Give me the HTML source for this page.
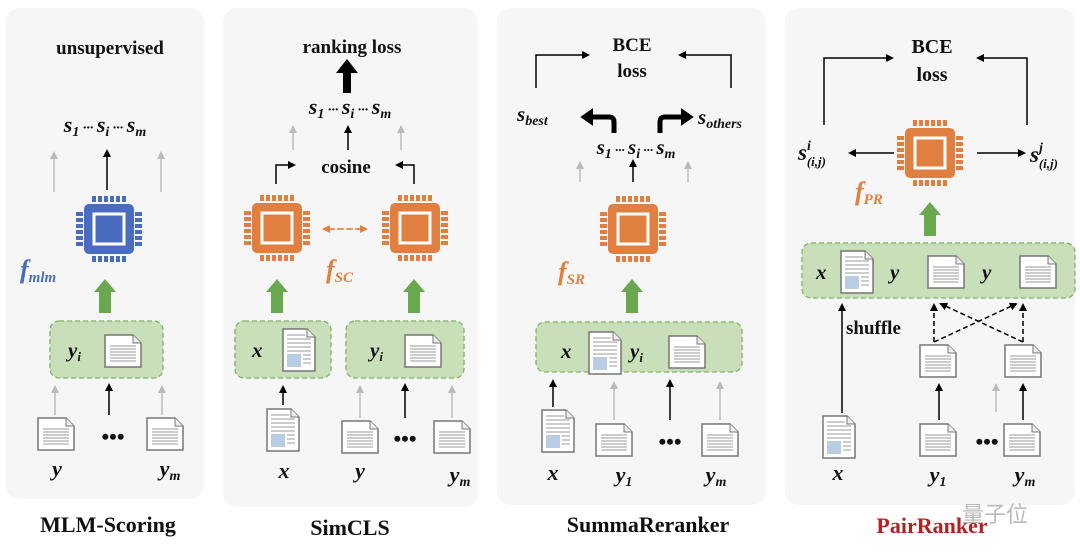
<!DOCTYPE html>
<html><head><meta charset="utf-8"><style>
html,body{margin:0;padding:0;background:#fff;}
svg{display:block;}
text{font-family:"Liberation Serif",serif;font-weight:bold;fill:#111;}
.it{font-style:italic;}
</style></head><body>
<svg width="1080" height="559" viewBox="0 0 1080 559" xmlns="http://www.w3.org/2000/svg">
<defs>
<g id="pins">
  <g>
  <rect x="-17" y="-33" width="4" height="6"/><rect x="-11" y="-33" width="4" height="6"/><rect x="-5" y="-33" width="4" height="6"/><rect x="1" y="-33" width="4" height="6"/><rect x="7" y="-33" width="4" height="6"/><rect x="13" y="-33" width="4" height="6"/>
  <rect x="-17" y="27" width="4" height="6"/><rect x="-11" y="27" width="4" height="6"/><rect x="-5" y="27" width="4" height="6"/><rect x="1" y="27" width="4" height="6"/><rect x="7" y="27" width="4" height="6"/><rect x="13" y="27" width="4" height="6"/>
  <rect y="-17" x="-33" height="4" width="7"/><rect y="-11" x="-33" height="4" width="7"/><rect y="-5" x="-33" height="4" width="7"/><rect y="1" x="-33" height="4" width="7"/><rect y="7" x="-33" height="4" width="7"/><rect y="13" x="-33" height="4" width="7"/>
  <rect y="-17" x="26" height="4" width="7"/><rect y="-11" x="26" height="4" width="7"/><rect y="-5" x="26" height="4" width="7"/><rect y="1" x="26" height="4" width="7"/><rect y="7" x="26" height="4" width="7"/><rect y="13" x="26" height="4" width="7"/>
  </g>
</g>
<g id="chipO" fill="#e07f3f">
  <use href="#pins"/>
  <rect x="-25" y="-25" width="50" height="50" rx="5"/>
  <rect x="-15" y="-15" width="30" height="30" fill="none" stroke="#fff" stroke-width="3"/>
</g>
<g id="chipB" fill="#4a6cc0">
  <use href="#pins"/>
  <rect x="-25" y="-25" width="50" height="50" rx="5"/>
  <rect x="-15" y="-15" width="30" height="30" fill="none" stroke="#fff" stroke-width="3"/>
</g>
<g id="doc">
  <path d="M0,0 H28 L36,8 V32 H0 Z" fill="#fff" stroke="#777" stroke-width="1.5"/>
  <path d="M28,0 V8 H36" fill="#eee" stroke="#777" stroke-width="1"/>
  <g stroke="#999" stroke-width="1"><line x1="5" y1="11" x2="31" y2="11"/><line x1="5" y1="14" x2="31" y2="14"/><line x1="5" y1="17" x2="31" y2="17"/><line x1="5" y1="20" x2="31" y2="20"/><line x1="5" y1="23" x2="31" y2="23"/><line x1="5" y1="26" x2="31" y2="26"/></g>
</g>
<g id="xdoc">
  <path d="M0,0 H24 L32,8 V42 H0 Z" fill="#fff" stroke="#777" stroke-width="1.5"/>
  <path d="M24,0 V8 H32" fill="#eee" stroke="#777" stroke-width="1"/>
  <g stroke="#999" stroke-width="1"><line x1="4" y1="6" x2="22" y2="6"/><line x1="4" y1="10" x2="28" y2="10"/><line x1="4" y1="14" x2="28" y2="14"/><line x1="4" y1="18" x2="28" y2="18"/><line x1="4" y1="22" x2="28" y2="22"/><line x1="20" y1="26" x2="28" y2="26"/><line x1="20" y1="30" x2="28" y2="30"/><line x1="20" y1="34" x2="28" y2="34"/></g>
  <rect x="4" y="25" width="14" height="13" fill="#b8cce4"/>
</g>
<marker id="ab" markerWidth="8" markerHeight="8" refX="6" refY="4" orient="auto" markerUnits="userSpaceOnUse"><path d="M0,0 L8,4 L0,8 Z" fill="#000"/></marker>
<marker id="ag" markerWidth="8" markerHeight="8" refX="6" refY="4" orient="auto" markerUnits="userSpaceOnUse"><path d="M0,0 L8,4 L0,8 Z" fill="#bbb"/></marker>
<marker id="ao" markerWidth="8" markerHeight="8" refX="6" refY="4" orient="auto" markerUnits="userSpaceOnUse"><path d="M0,0 L8,4 L0,8 Z" fill="#e07f3f"/></marker>
<marker id="ak" markerWidth="14" markerHeight="14" refX="8" refY="7" orient="auto" markerUnits="userSpaceOnUse"><path d="M0,0 L12,7 L0,14 Z" fill="#000"/></marker>
</defs>

<!-- panels -->
<rect x="6" y="8" width="198" height="491" rx="14" fill="#f6f6f6"/>
<rect x="223" y="8" width="255" height="499" rx="14" fill="#f6f6f6"/>
<rect x="497" y="8" width="269" height="497" rx="14" fill="#f6f6f6"/>
<rect x="785" y="8" width="290" height="497" rx="14" fill="#f6f6f6"/>

<!-- green arrows template function via paths -->
<g fill="#6aa84f">
  <path d="M99,313 V292 H94 L105,279 L116,292 H111 V313 Z"/>
  <path d="M271,313 V292 H266 L277,279 L288,292 H283 V313 Z"/>
  <path d="M408,313 V292 H403 L414,279 L425,292 H420 V313 Z"/>
  <path d="M626,313 V292 H621 L632,279 L643,292 H638 V313 Z"/>
  <path d="M924,236 V215 H919 L930,202 L941,215 H936 V236 Z"/>
</g>

<!-- green boxes -->
<g fill="#c9dfb9" stroke="#7fb46a" stroke-width="1.3" stroke-dasharray="5,3">
  <rect x="50" y="321" width="113" height="57" rx="9"/>
  <rect x="235" y="321" width="96" height="57" rx="9"/>
  <rect x="346" y="321" width="118" height="57" rx="9"/>
  <rect x="536" y="322" width="206" height="50" rx="9"/>
  <rect x="802" y="243" width="273" height="55" rx="9"/>
</g>

<!-- ===== Panel 1 ===== -->
<text x="110" y="54" font-size="19" text-anchor="middle">unsupervised</text>
<text x="105" y="132" font-size="22" text-anchor="middle" class="it">s<tspan font-size="14" dy="4">1</tspan><tspan dy="-4" font-size="14"> ··· </tspan>s<tspan font-size="14" dy="4">i</tspan><tspan dy="-4" font-size="14"> ··· </tspan>s<tspan font-size="14" dy="4">m</tspan></text>
<line x1="54" y1="192" x2="54" y2="153" stroke="#bbb" stroke-width="1.5" marker-end="url(#ag)"/>
<line x1="107" y1="190" x2="107" y2="151" stroke="#000" stroke-width="1.5" marker-end="url(#ab)"/>
<line x1="161" y1="192" x2="161" y2="153" stroke="#bbb" stroke-width="1.5" marker-end="url(#ag)"/>
<use href="#chipB" x="109" y="229"/>
<text x="20" y="278" font-size="26" fill="#4a6cc0" class="it" style="fill:#4a6cc0">f<tspan font-size="15" dy="4">mlm</tspan></text>
<text x="68" y="357" font-size="21" class="it">y<tspan font-size="13" dy="4">i</tspan></text>
<use href="#doc" x="105" y="335"/>
<line x1="55" y1="415" x2="55" y2="387" stroke="#bbb" stroke-width="1.5" marker-end="url(#ag)"/>
<line x1="109" y1="415" x2="109" y2="385" stroke="#000" stroke-width="1.5" marker-end="url(#ab)"/>
<line x1="162" y1="415" x2="162" y2="387" stroke="#bbb" stroke-width="1.5" marker-end="url(#ag)"/>
<use href="#doc" x="38" y="418"/>
<use href="#doc" x="147" y="418"/>
<text x="113" y="444" font-size="22" text-anchor="middle">•••</text>
<text x="57" y="476" font-size="22" class="it" text-anchor="middle">y</text>
<text x="170" y="476" font-size="22" class="it" text-anchor="middle">y<tspan font-size="14" dy="4">m</tspan></text>
<text x="108" y="532" font-size="22" text-anchor="middle">MLM-Scoring</text>

<!-- ===== Panel 2 ===== -->
<text x="352" y="53" font-size="19" text-anchor="middle">ranking loss</text>
<path d="M343,93 V73 H336 L347,59 L358,73 H351 V93 Z" fill="#000"/>
<text x="350" y="114" font-size="22" text-anchor="middle" class="it">s<tspan font-size="14" dy="4">1</tspan><tspan dy="-4" font-size="14"> ··· </tspan>s<tspan font-size="14" dy="4">i</tspan><tspan dy="-4" font-size="14"> ··· </tspan>s<tspan font-size="14" dy="4">m</tspan></text>
<line x1="293" y1="150" x2="293" y2="127" stroke="#bbb" stroke-width="1.5" marker-end="url(#ag)"/>
<line x1="348" y1="150" x2="348" y2="127" stroke="#000" stroke-width="1.5" marker-end="url(#ab)"/>
<line x1="401" y1="150" x2="401" y2="127" stroke="#bbb" stroke-width="1.5" marker-end="url(#ag)"/>
<text x="346" y="173" font-size="19" text-anchor="middle">cosine</text>
<path d="M276,184 V165 H294" fill="none" stroke="#000" stroke-width="1.5" marker-end="url(#ab)"/>
<path d="M414,184 V165 H397" fill="none" stroke="#000" stroke-width="1.5" marker-end="url(#ab)"/>
<use href="#chipO" x="277" y="228"/>
<use href="#chipO" x="415" y="228"/>
<line x1="330" y1="229" x2="366" y2="229" stroke="#e07f3f" stroke-width="1.5" stroke-dasharray="5,4" marker-end="url(#ao)"/>
<line x1="360" y1="229" x2="324" y2="229" stroke="#e07f3f" stroke-width="1.5" stroke-dasharray="5,4" marker-end="url(#ao)"/>
<text x="326" y="278" font-size="26" class="it" style="fill:#e07f3f">f<tspan font-size="15" dy="4">SC</tspan></text>
<text x="252" y="357" font-size="21" class="it">x</text>
<use href="#xdoc" x="283" y="329"/>
<text x="370" y="357" font-size="21" class="it">y<tspan font-size="13" dy="4">i</tspan></text>
<use href="#doc" x="405" y="335"/>
<line x1="283" y1="405" x2="283" y2="387" stroke="#000" stroke-width="1.5" marker-end="url(#ab)"/>
<line x1="360" y1="418" x2="360" y2="387" stroke="#bbb" stroke-width="1.5" marker-end="url(#ag)"/>
<line x1="405" y1="418" x2="405" y2="385" stroke="#000" stroke-width="1.5" marker-end="url(#ab)"/>
<line x1="452" y1="418" x2="452" y2="387" stroke="#bbb" stroke-width="1.5" marker-end="url(#ag)"/>
<use href="#xdoc" x="267" y="409"/>
<use href="#doc" x="342" y="421"/>
<use href="#doc" x="434" y="421"/>
<text x="405" y="446" font-size="22" text-anchor="middle">•••</text>
<text x="284" y="478" font-size="22" class="it" text-anchor="middle">x</text>
<text x="360" y="478" font-size="22" class="it" text-anchor="middle">y</text>
<text x="460" y="482" font-size="22" class="it" text-anchor="middle">y<tspan font-size="14" dy="4">m</tspan></text>
<text x="350" y="535" font-size="22" text-anchor="middle">SimCLS</text>

<!-- ===== Panel 3 ===== -->
<text x="632" y="51" font-size="19" text-anchor="middle">BCE</text>
<text x="632" y="77" font-size="19" text-anchor="middle">loss</text>
<path d="M536,88 V55 H588" fill="none" stroke="#000" stroke-width="1.5" marker-end="url(#ab)"/>
<path d="M731,88 V55 H680" fill="none" stroke="#000" stroke-width="1.5" marker-end="url(#ab)"/>
<text x="517" y="121" font-size="21" class="it">s<tspan font-size="14" dy="4">best</tspan></text>
<path d="M614,133 V122 Q614,117 609,117 H590" fill="none" stroke="#000" stroke-width="5"/>
<path d="M592,110 L582,117 L592,124 Z" fill="#000" stroke="#000" stroke-width="2"/>
<path d="M660,133 V122 Q660,117 665,117 H684" fill="none" stroke="#000" stroke-width="5"/>
<path d="M682,110 L692,117 L682,124 Z" fill="#000" stroke="#000" stroke-width="2"/>
<text x="698" y="124" font-size="21" class="it">s<tspan font-size="14" dy="4">others</tspan></text>
<text x="636" y="154" font-size="21" text-anchor="middle" class="it">s<tspan font-size="14" dy="4">1</tspan><tspan dy="-4" font-size="13"> ··· </tspan>s<tspan font-size="14" dy="4">i</tspan><tspan dy="-4" font-size="13"> ··· </tspan>s<tspan font-size="14" dy="4">m</tspan></text>
<line x1="580" y1="182" x2="580" y2="163" stroke="#bbb" stroke-width="1.5" marker-end="url(#ag)"/>
<line x1="633" y1="182" x2="633" y2="161" stroke="#000" stroke-width="1.5" marker-end="url(#ab)"/>
<line x1="688" y1="182" x2="688" y2="163" stroke="#bbb" stroke-width="1.5" marker-end="url(#ag)"/>
<use href="#chipO" x="633" y="229"/>
<text x="558" y="280" font-size="26" class="it" style="fill:#e07f3f">f<tspan font-size="15" dy="4">SR</tspan></text>
<text x="561" y="358" font-size="21" class="it">x</text>
<use href="#xdoc" x="589" y="332"/>
<text x="630" y="358" font-size="21" class="it">y<tspan font-size="13" dy="4">i</tspan></text>
<use href="#doc" x="669" y="336"/>
<line x1="553" y1="407" x2="553" y2="381" stroke="#000" stroke-width="1.5" marker-end="url(#ab)"/>
<line x1="614" y1="420" x2="614" y2="383" stroke="#bbb" stroke-width="1.5" marker-end="url(#ag)"/>
<line x1="670" y1="420" x2="670" y2="381" stroke="#000" stroke-width="1.5" marker-end="url(#ab)"/>
<line x1="720" y1="420" x2="720" y2="383" stroke="#bbb" stroke-width="1.5" marker-end="url(#ag)"/>
<use href="#xdoc" x="542" y="410"/>
<use href="#doc" x="596" y="424"/>
<use href="#doc" x="702" y="424"/>
<text x="670" y="449" font-size="22" text-anchor="middle">•••</text>
<text x="553" y="480" font-size="22" class="it" text-anchor="middle">x</text>
<text x="624" y="482" font-size="22" class="it" text-anchor="middle">y<tspan font-size="14" dy="4">1</tspan></text>
<text x="716" y="482" font-size="22" class="it" text-anchor="middle">y<tspan font-size="14" dy="4">m</tspan></text>
<text x="648" y="532" font-size="22" text-anchor="middle">SummaReranker</text>

<!-- ===== Panel 4 ===== -->
<text x="932" y="53" font-size="20" text-anchor="middle">BCE</text>
<text x="932" y="81" font-size="20" text-anchor="middle">loss</text>
<path d="M824,125 V58 H892" fill="none" stroke="#000" stroke-width="1.5" marker-end="url(#ab)"/>
<path d="M1027,125 V58 H978" fill="none" stroke="#000" stroke-width="1.5" marker-end="url(#ab)"/>
<use href="#chipO" x="930" y="153"/>
<line x1="894" y1="153" x2="850" y2="153" stroke="#000" stroke-width="1.5" marker-end="url(#ab)"/>
<line x1="977" y1="153" x2="1024" y2="153" stroke="#000" stroke-width="1.5" marker-end="url(#ab)"/>
<text x="798" y="160" font-size="23" class="it">s<tspan font-size="14" dy="-10">i</tspan><tspan font-size="13" dx="-4" dy="16">(i,j)</tspan></text>
<text x="1030" y="162" font-size="23" class="it">s<tspan font-size="14" dy="-10">j</tspan><tspan font-size="13" dx="-4" dy="16">(i,j)</tspan></text>
<text x="855" y="200" font-size="26" class="it" style="fill:#e07f3f">f<tspan font-size="15" dy="4">PR</tspan></text>
<text x="816" y="279" font-size="21" class="it">x</text>
<use href="#xdoc" x="841" y="251"/>
<text x="890" y="279" font-size="21" class="it">y</text>
<use href="#doc" x="928" y="256"/>
<text x="982" y="279" font-size="21" class="it">y</text>
<use href="#doc" x="1020" y="256"/>
<line x1="842" y1="413" x2="842" y2="305" stroke="#000" stroke-width="1.5" marker-end="url(#ab)"/>
<text x="846" y="334" font-size="19">shuffle</text>
<g stroke="#000" stroke-width="1.5" stroke-dasharray="5,3" fill="none">
  <path d="M934,342 V305" marker-end="url(#ab)"/>
  <path d="M1023,342 V305" marker-end="url(#ab)"/>
  <path d="M934,342 L1016,304" marker-end="url(#ab)"/>
  <path d="M1023,342 L941,304" marker-end="url(#ab)"/>
</g>
<use href="#doc" x="920" y="345"/>
<use href="#doc" x="1005" y="345"/>
<line x1="939" y1="420" x2="939" y2="385" stroke="#000" stroke-width="1.5" marker-end="url(#ab)"/>
<line x1="996" y1="412" x2="996" y2="385" stroke="#bbb" stroke-width="1.5" marker-end="url(#ag)"/>
<line x1="1023" y1="420" x2="1023" y2="385" stroke="#000" stroke-width="1.5" marker-end="url(#ab)"/>
<use href="#xdoc" x="823" y="416"/>
<use href="#doc" x="920" y="424"/>
<use href="#doc" x="1004" y="424"/>
<text x="987" y="449" font-size="22" text-anchor="middle">•••</text>
<text x="838" y="480" font-size="22" class="it" text-anchor="middle">x</text>
<text x="938" y="482" font-size="22" class="it" text-anchor="middle">y<tspan font-size="14" dy="4">1</tspan></text>
<text x="1025" y="482" font-size="22" class="it" text-anchor="middle">y<tspan font-size="14" dy="4">m</tspan></text>
<text x="932" y="533" font-size="22" text-anchor="middle" style="fill:#b22222">PairRanker</text>
<text x="962" y="522" font-size="22" style="fill:#aaa;font-weight:normal;font-family:'Liberation Sans','Noto Sans CJK SC',sans-serif" opacity="0.8">量子位</text>
</svg>
</body></html>
